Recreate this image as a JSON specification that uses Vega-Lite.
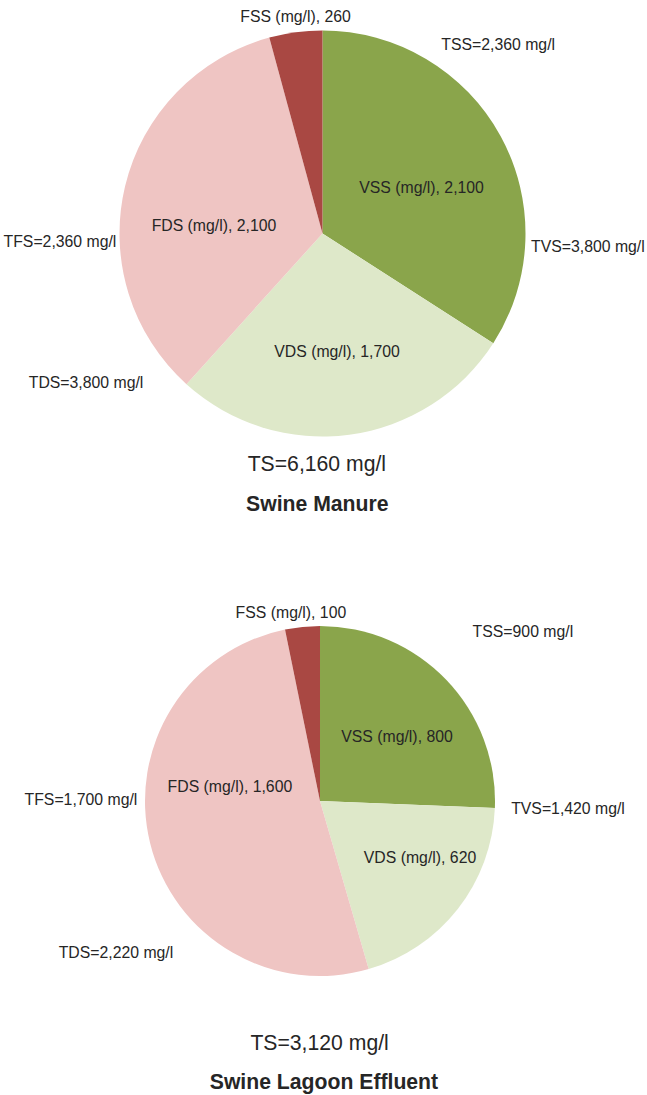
{
  "$schema": "https://vega.github.io/schema/vega-lite/v6.json",
  "width": 647,
  "height": 1095,
  "padding": 0,
  "autosize": {"type": "none"},
  "config": {"view": {"stroke": null}},
  "datasets": {
    "slices": [
      {"chart": "Swine Manure", "type": "VSS", "value": 2100, "ord": 1},
      {"chart": "Swine Manure", "type": "VDS", "value": 1700, "ord": 2},
      {"chart": "Swine Manure", "type": "FDS", "value": 2100, "ord": 3},
      {"chart": "Swine Manure", "type": "FSS", "value": 260, "ord": 4},
      {"chart": "Swine Lagoon Effluent", "type": "VSS", "value": 800, "ord": 1},
      {"chart": "Swine Lagoon Effluent", "type": "VDS", "value": 620, "ord": 2},
      {"chart": "Swine Lagoon Effluent", "type": "FDS", "value": 1600, "ord": 3},
      {"chart": "Swine Lagoon Effluent", "type": "FSS", "value": 100, "ord": 4}
    ],
    "labels": [
      {"chart": "Swine Manure", "kind": "label", "text": "VSS (mg/l), 2,100", "angle": 65.3, "dist": 0.537},
      {"chart": "Swine Manure", "kind": "label", "text": "VDS (mg/l), 1,700", "angle": 173.0, "dist": 0.588},
      {"chart": "Swine Manure", "kind": "label", "text": "FDS (mg/l), 2,100", "angle": 274.0, "dist": 0.536},
      {"chart": "Swine Manure", "kind": "label", "text": "FSS (mg/l), 260", "angle": 352.9, "dist": 1.074},
      {"chart": "Swine Manure", "kind": "label", "text": "TSS=2,360 mg/l", "angle": 43.0, "dist": 1.269},
      {"chart": "Swine Manure", "kind": "label", "text": "TVS=3,800 mg/l", "angle": 92.9, "dist": 1.309},
      {"chart": "Swine Manure", "kind": "label", "text": "TFS=2,360 mg/l", "angle": 268.1, "dist": 1.294},
      {"chart": "Swine Manure", "kind": "label", "text": "TDS=3,800 mg/l", "angle": 237.7, "dist": 1.378},
      {"chart": "Swine Manure", "kind": "ts", "text": "TS=6,160 mg/l", "angle": 181.4, "dist": 1.141},
      {"chart": "Swine Manure", "kind": "title", "text": "Swine Manure", "angle": 181.1, "dist": 1.337},
      {"chart": "Swine Lagoon Effluent", "kind": "label", "text": "VSS (mg/l), 800", "angle": 50.3, "dist": 0.572},
      {"chart": "Swine Lagoon Effluent", "kind": "label", "text": "VDS (mg/l), 620", "angle": 119.7, "dist": 0.658},
      {"chart": "Swine Lagoon Effluent", "kind": "label", "text": "FDS (mg/l), 1,600", "angle": 278.8, "dist": 0.521},
      {"chart": "Swine Lagoon Effluent", "kind": "label", "text": "FSS (mg/l), 100", "angle": 351.2, "dist": 1.087},
      {"chart": "Swine Lagoon Effluent", "kind": "label", "text": "TSS=900 mg/l", "angle": 50.2, "dist": 1.509},
      {"chart": "Swine Lagoon Effluent", "kind": "label", "text": "TVS=1,420 mg/l", "angle": 91.8, "dist": 1.418},
      {"chart": "Swine Lagoon Effluent", "kind": "label", "text": "TFS=1,700 mg/l", "angle": 270.2, "dist": 1.366},
      {"chart": "Swine Lagoon Effluent", "kind": "label", "text": "TDS=2,220 mg/l", "angle": 233.3, "dist": 1.454},
      {"chart": "Swine Lagoon Effluent", "kind": "ts", "text": "TS=3,120 mg/l", "angle": 180.1, "dist": 1.391},
      {"chart": "Swine Lagoon Effluent", "kind": "title", "text": "Swine Lagoon Effluent", "angle": 179.2, "dist": 1.609}
    ]
  },
  "encoding": {
    "x": {"field": "chart", "type": "nominal", "axis": null, "scale": {"type": "point", "padding": 0, "domain": ["Swine Manure", "Swine Lagoon Effluent"], "range": [322.5, 320]}},
    "y": {"field": "chart", "type": "nominal", "axis": null, "scale": {"type": "point", "padding": 0, "domain": ["Swine Manure", "Swine Lagoon Effluent"], "range": [233.5, 801]}}
  },
  "layer": [
    {
      "data": {"name": "slices"},
      "transform": [
        {"filter": "datum.chart === 'Swine Manure'"},
        {"stack": "value", "groupby": ["chart"], "sort": [{"field": "ord", "order": "ascending"}], "offset": "normalize", "as": ["v0", "v1"]}
      ],
      "mark": {"type": "arc", "radius": 203},
      "encoding": {
        "theta": {"field": "v0", "type": "quantitative", "stack": null, "scale": {"domain": [0, 1], "range": [0, 6.283185307179586]}},
        "theta2": {"field": "v1"},
        "color": {"field": "type", "type": "nominal", "legend": null, "scale": {"domain": ["VSS", "VDS", "FDS", "FSS"], "range": ["#8aa54b", "#dee8c9", "#efc5c3", "#a94843"]}}
      }
    },
    {
      "data": {"name": "slices"},
      "transform": [
        {"filter": "datum.chart === 'Swine Lagoon Effluent'"},
        {"stack": "value", "groupby": ["chart"], "sort": [{"field": "ord", "order": "ascending"}], "offset": "normalize", "as": ["v0", "v1"]}
      ],
      "mark": {"type": "arc", "radius": 175},
      "encoding": {
        "theta": {"field": "v0", "type": "quantitative", "stack": null, "scale": {"domain": [0, 1], "range": [0, 6.283185307179586]}},
        "theta2": {"field": "v1"},
        "color": {"field": "type", "type": "nominal", "legend": null, "scale": {"domain": ["VSS", "VDS", "FDS", "FSS"], "range": ["#8aa54b", "#dee8c9", "#efc5c3", "#a94843"]}}
      }
    },
    {
      "data": {"name": "labels"},
      "transform": [{"filter": "datum.chart === 'Swine Manure' && datum.kind === 'label'"}],
      "mark": {"type": "text", "font": "Liberation Sans", "fontSize": 15.8, "color": "#262626", "align": "center", "baseline": "middle"},
      "encoding": {
        "theta": {"field": "angle", "type": "quantitative", "scale": {"domain": [0, 360], "range": [0, 6.283185307179586]}},
        "radius": {"field": "dist", "type": "quantitative", "scale": {"type": "linear", "zero": true, "domain": [0, 1], "range": [0, 203]}},
        "text": {"field": "text"}
      }
    },
    {
      "data": {"name": "labels"},
      "transform": [{"filter": "datum.chart === 'Swine Lagoon Effluent' && datum.kind === 'label'"}],
      "mark": {"type": "text", "font": "Liberation Sans", "fontSize": 15.8, "color": "#262626", "align": "center", "baseline": "middle"},
      "encoding": {
        "theta": {"field": "angle", "type": "quantitative", "scale": {"domain": [0, 360], "range": [0, 6.283185307179586]}},
        "radius": {"field": "dist", "type": "quantitative", "scale": {"type": "linear", "zero": true, "domain": [0, 1], "range": [0, 175]}},
        "text": {"field": "text"}
      }
    },
    {
      "data": {"name": "labels"},
      "transform": [{"filter": "datum.chart === 'Swine Manure' && datum.kind === 'ts'"}],
      "mark": {"type": "text", "font": "Liberation Sans", "fontSize": 21.2, "color": "#262626", "align": "center", "baseline": "middle"},
      "encoding": {
        "theta": {"field": "angle", "type": "quantitative", "scale": {"domain": [0, 360], "range": [0, 6.283185307179586]}},
        "radius": {"field": "dist", "type": "quantitative", "scale": {"type": "linear", "zero": true, "domain": [0, 1], "range": [0, 203]}},
        "text": {"field": "text"}
      }
    },
    {
      "data": {"name": "labels"},
      "transform": [{"filter": "datum.chart === 'Swine Lagoon Effluent' && datum.kind === 'ts'"}],
      "mark": {"type": "text", "font": "Liberation Sans", "fontSize": 21.2, "color": "#262626", "align": "center", "baseline": "middle"},
      "encoding": {
        "theta": {"field": "angle", "type": "quantitative", "scale": {"domain": [0, 360], "range": [0, 6.283185307179586]}},
        "radius": {"field": "dist", "type": "quantitative", "scale": {"type": "linear", "zero": true, "domain": [0, 1], "range": [0, 175]}},
        "text": {"field": "text"}
      }
    },
    {
      "data": {"name": "labels"},
      "transform": [{"filter": "datum.chart === 'Swine Manure' && datum.kind === 'title'"}],
      "mark": {"type": "text", "font": "Liberation Sans", "fontSize": 21.2, "fontWeight": "bold", "color": "#262626", "align": "center", "baseline": "middle"},
      "encoding": {
        "theta": {"field": "angle", "type": "quantitative", "scale": {"domain": [0, 360], "range": [0, 6.283185307179586]}},
        "radius": {"field": "dist", "type": "quantitative", "scale": {"type": "linear", "zero": true, "domain": [0, 1], "range": [0, 203]}},
        "text": {"field": "text"}
      }
    },
    {
      "data": {"name": "labels"},
      "transform": [{"filter": "datum.chart === 'Swine Lagoon Effluent' && datum.kind === 'title'"}],
      "mark": {"type": "text", "font": "Liberation Sans", "fontSize": 21.2, "fontWeight": "bold", "color": "#262626", "align": "center", "baseline": "middle"},
      "encoding": {
        "theta": {"field": "angle", "type": "quantitative", "scale": {"domain": [0, 360], "range": [0, 6.283185307179586]}},
        "radius": {"field": "dist", "type": "quantitative", "scale": {"type": "linear", "zero": true, "domain": [0, 1], "range": [0, 175]}},
        "text": {"field": "text"}
      }
    }
  ],
  "resolve": {"scale": {"theta": "independent", "radius": "independent"}}
}
